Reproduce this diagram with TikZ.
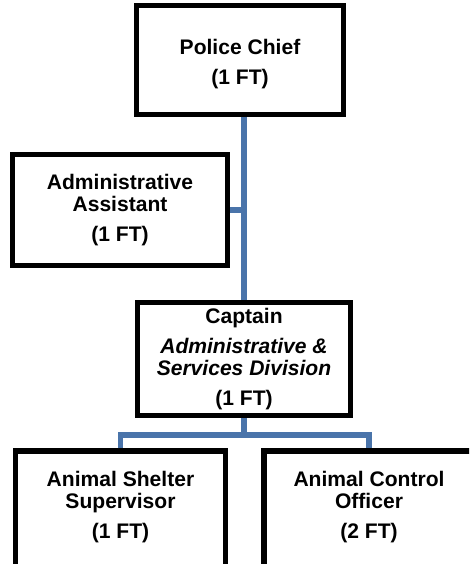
\documentclass[tikz,border=0pt]{standalone}
\usepackage{fontspec}
\setmainfont{Liberation Sans}
\begin{document}
\begin{tikzpicture}[x=0.75pt,y=-0.75pt,
  box/.style={draw=black,line width=3.8pt,rectangle,inner sep=0pt,align=center,
    font=\fontsize{15.8}{16.5}\selectfont\bfseries,fill=white},
  link/.style={draw={rgb,255:red,74;green,116;blue,170},line width=4pt}]
\clip (0,0) rectangle (469,564);
\fill[white] (0,0) rectangle (469,564);
\node[box,minimum width=155.25pt,minimum height=81.75pt] (pc) at (240,60) {\rule{0pt}{17.5pt}Police Chief\\[6pt](1 FT)};
\node[box,minimum width=161.25pt,minimum height=83.25pt] (aa) at (120,210) {Administrative\\Assistant\\[6pt](1 FT)};
\node[box,minimum width=159.75pt,minimum height=84.75pt] (cap) at (244,359) {Captain\\[6pt]\itshape Administrative \&\\\itshape Services Division\\[6pt](1 FT)};
\node[box,minimum width=157.5pt,minimum height=93pt] (bl) at (120.5,513) {Animal Shelter\\Supervisor\\[6pt](1 FT)\\[-5pt]\mbox{}};
\node[box,minimum width=157.5pt,minimum height=93pt] (br) at (369,513) {Animal Control\\Officer\\[6pt](2 FT)\\[-5pt]\mbox{}};
\coordinate (bus) at (244,435);
\path[link] (cap.north) -- (cap.north |- pc.south);
\path[link] (aa.east) -- (aa.east -| cap.north);
\path[link] (cap.south) -- (bus);
\path[link] (bl.north) |- (bus) -| (br.north);
\end{tikzpicture}
\end{document}
